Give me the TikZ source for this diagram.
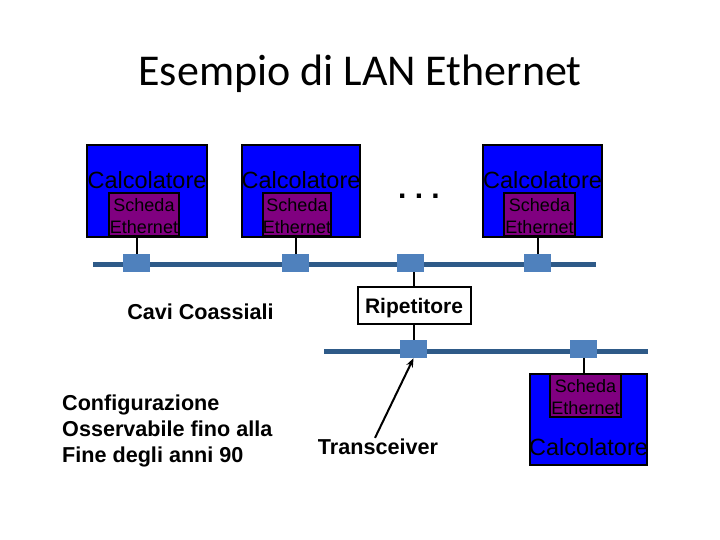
\documentclass[tikz,border=0pt]{standalone}
\usepackage{fontspec}
\setmainfont{Liberation Sans}
\newfontfamily\titlefont{Carlito}
\usetikzlibrary{arrows.meta}
\definecolor{pcblue}{HTML}{0000FF}
\definecolor{nicpurple}{HTML}{800080}
\definecolor{buscol}{HTML}{2E5A88}
\definecolor{tapcol}{HTML}{4F81BD}
\begin{document}
\begin{tikzpicture}[x=1pt,y=-1pt,
  comp/.style={draw=black,line width=2pt,fill=pcblue,inner sep=0pt},
  nic/.style={draw=black,line width=1.5pt,fill=nicpurple,inner sep=0pt},
  calc/.style={inner sep=0pt,font=\fontsize{23.5}{24}\selectfont},
  nictext/.style={inner sep=0pt,align=center,font=\fontsize{18}{22}\selectfont},
  bus/.style={draw=buscol,line width=5pt},
  tap/.style={fill=tapcol,minimum width=27pt,minimum height=18pt,inner sep=0pt},
  stub/.style={draw=black,line width=2pt},
  lbl/.style={inner sep=0pt,font=\fontsize{21.6}{26}\selectfont\bfseries},
  rep/.style={draw=black,line width=2pt,fill=white,minimum width=113pt,minimum height=37pt,inner sep=0pt,text depth=0pt,font=\fontsize{21}{26}\selectfont\bfseries}]
\useasboundingbox[fill=white] (0,0) rectangle (720,540);

% title
\node[inner sep=0pt,font=\titlefont\fontsize{44}{50}\selectfont] (title) at (360,74) {Esempio di LAN Ethernet};

% buses
\coordinate (b1l) at (93,264);
\coordinate (b1r) at (596,264);
\coordinate (b2l) at (324,351);
\coordinate (b2r) at (648,351);
\draw[bus] (b1l) -- (b1r);
\draw[bus] (b2l) -- (b2r);

% taps
\node[tap] (tap1) at (136.5,263) {};
\node[tap] (tap2) at (295.5,263) {};
\node[tap] (tapm) at (410,263) {};
\node[tap] (tap3) at (537.5,263) {};
\node[tap] (tap4) at (413.5,349) {};
\node[tap] (tap5) at (583.5,349) {};

% computers
\node[comp,minimum width=120pt,minimum height=92pt] (c1) at (147,191) {};
\node[comp,minimum width=118pt,minimum height=92pt] (c2) at (301,191) {};
\node[comp,minimum width=119pt,minimum height=92pt] (c3) at (542.5,191) {};
\node[comp,minimum width=117pt,minimum height=91pt] (c4) at (588.5,419.5) {};

% stubs
\draw[stub] (tap1.north) -- (tap1.north |- c1.south);
\draw[stub] (tap2.north) -- (tap2.north |- c2.south);
\draw[stub] (tap3.north) -- (tap3.north |- c3.south);
\draw[stub] (tap5.south) -- (tap5.south |- c4.north);

% NICs
\node[nic,minimum width=70pt,minimum height=43pt] (n1) at (144,214.5) {};
\node[nic,minimum width=68pt,minimum height=43pt] (n2) at (297,214.5) {};
\node[nic,minimum width=71pt,minimum height=43pt] (n3) at (539.5,214.5) {};
\node[nic,minimum width=71pt,minimum height=43pt] (n4) at (585.5,395.5) {};

% texts in computers
\node[calc] (t1) at (147,180) {Calcolatore};
\node[calc] (t2) at (301,180) {Calcolatore};
\node[calc] (t3) at (542.5,180) {Calcolatore};
\node[calc] (t4) at (588.5,447) {Calcolatore};
\node[nictext] (s1) at (144,216) {Scheda\\Ethernet};
\node[nictext] (s2) at (297,216) {Scheda\\Ethernet};
\node[nictext] (s3) at (539.5,216) {Scheda\\Ethernet};
\node[nictext] (s4) at (585.5,397) {Scheda\\Ethernet};

% dots
\node[inner sep=0pt,font=\fontsize{30}{30}\selectfont\bfseries] (dots) at (419,196) {.\ .\ .};

% repeater
\node[rep] (rip) at (414,305.5) {Ripetitore};
\draw[stub] (rip.north) -- (rip.north |- tapm.south);
\draw[stub] (rip.south) -- (rip.south |- tap4.north);

% labels
\node[lbl] (cavi) at (200.5,312) {Cavi Coassiali};
\node[lbl,align=left,anchor=north west] (conf) at (62,395) {Configurazione\\Osservabile fino alla\\Fine degli anni 90};
\node[lbl] (trans) at (378,447) {Transceiver};
\draw[line width=2pt,-{Stealth[length=9pt,width=7pt]}] (trans.north) ++(-3,-1) -- (tap4.south);
\end{tikzpicture}
\end{document}
